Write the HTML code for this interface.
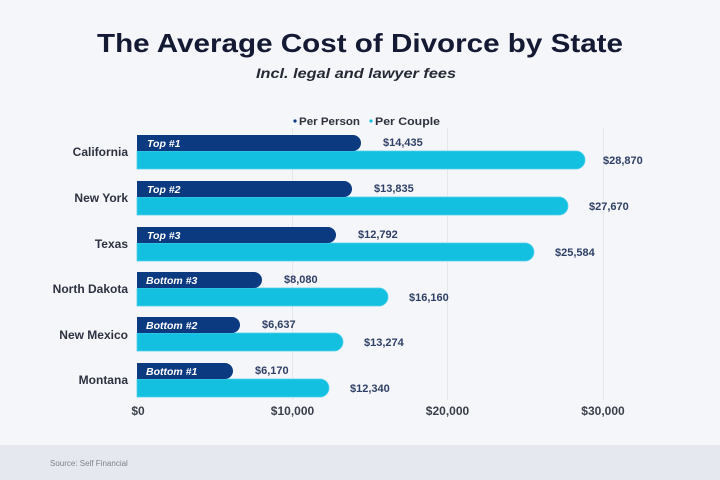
<!DOCTYPE html>
<html><head><meta charset="utf-8"><style>
html,body{margin:0;padding:0;background:#f4f6f9;}
svg{display:block;}
text{font-family:"Liberation Sans",sans-serif;}
</style></head><body>
<svg width="720" height="480" viewBox="0 0 720 480" xmlns="http://www.w3.org/2000/svg">
<rect x="0" y="0" width="720" height="480" fill="#f4f6f9"/>
<rect x="0" y="445" width="720" height="35" fill="#e5e9ef"/>
<text x="50" y="466" font-size="8" fill="#7d828c">Source: Self Financial</text>

<text x="360" y="52" text-anchor="middle" font-size="26" font-weight="bold" fill="#141a33" textLength="526" lengthAdjust="spacingAndGlyphs">The Average Cost of Divorce by State</text>
<text x="356" y="78" text-anchor="middle" font-size="14" font-style="italic" font-weight="bold" fill="#262a35" textLength="200" lengthAdjust="spacingAndGlyphs">Incl. legal and lawyer fees</text>

<circle cx="295" cy="121" r="1.6" fill="#0c3a80"/>
<text x="299" y="125" font-size="11" font-weight="bold" fill="#2e323d" textLength="61" lengthAdjust="spacingAndGlyphs">Per Person</text>
<circle cx="371" cy="121" r="1.6" fill="#14c0e0"/>
<text x="375" y="125" font-size="11" font-weight="bold" fill="#2e323d" textLength="65" lengthAdjust="spacingAndGlyphs">Per Couple</text>

<g stroke="#e4e7ec" stroke-width="1">
<line x1="292.5" y1="128" x2="292.5" y2="400"/>
<line x1="447.5" y1="128" x2="447.5" y2="400"/>
<line x1="603.5" y1="128" x2="603.5" y2="400"/>
</g>

<g font-size="12" font-weight="bold" fill="#2d3140" text-anchor="end">
<text x="128" y="156">California</text>
<text x="128" y="202">New York</text>
<text x="128" y="248">Texas</text>
<text x="128" y="293">North Dakota</text>
<text x="128" y="339">New Mexico</text>
<text x="128" y="384">Montana</text>
</g>

<!-- bars: light then dark -->
<g fill="#14c0e0" stroke="#4fd0ea" stroke-width="0.8">
<path d="M137,151 H576 A9,9 0 0 1 576,169 H137 Z"/>
<path d="M137,197 H559 A9,9 0 0 1 559,215 H137 Z"/>
<path d="M137,243 H525 A9,9 0 0 1 525,261 H137 Z"/>
<path d="M137,288 H379 A9,9 0 0 1 379,306 H137 Z"/>
<path d="M137,333 H334 A9,9 0 0 1 334,351 H137 Z"/>
<path d="M137,379 H320 A9,9 0 0 1 320,397 H137 Z"/>
</g>
<g fill="#0c3a80">
<path d="M137,135 H353 A8,8 0 0 1 353,151 H137 Z"/>
<path d="M137,181 H344 A8,8 0 0 1 344,197 H137 Z"/>
<path d="M137,227 H328 A8,8 0 0 1 328,243 H137 Z"/>
<path d="M137,272 H254 A8,8 0 0 1 254,288 H137 Z"/>
<path d="M137,317 H232 A8,8 0 0 1 232,333 H137 Z"/>
<path d="M137,363 H225 A8,8 0 0 1 225,379 H137 Z"/>
</g>

<g font-size="10.5" font-weight="bold" font-style="italic" fill="#ffffff">
<text x="147" y="147">Top #1</text>
<text x="147" y="193">Top #2</text>
<text x="147" y="239">Top #3</text>
<text x="146" y="284">Bottom #3</text>
<text x="146" y="329">Bottom #2</text>
<text x="146" y="375">Bottom #1</text>
</g>

<g font-size="11" font-weight="bold" fill="#2f3f66">
<text x="383" y="146">$14,435</text>
<text x="603" y="164">$28,870</text>
<text x="374" y="192">$13,835</text>
<text x="589" y="210">$27,670</text>
<text x="358" y="238">$12,792</text>
<text x="555" y="256">$25,584</text>
<text x="284" y="283">$8,080</text>
<text x="409" y="301">$16,160</text>
<text x="262" y="328">$6,637</text>
<text x="364" y="346">$13,274</text>
<text x="255" y="374">$6,170</text>
<text x="350" y="392">$12,340</text>
</g>

<g font-size="12" font-weight="bold" fill="#3a3f4b" text-anchor="middle">
<text x="138" y="415">$0</text>
<text x="292.5" y="415">$10,000</text>
<text x="447.5" y="415">$20,000</text>
<text x="603" y="415">$30,000</text>
</g>
</svg>
</body></html>
